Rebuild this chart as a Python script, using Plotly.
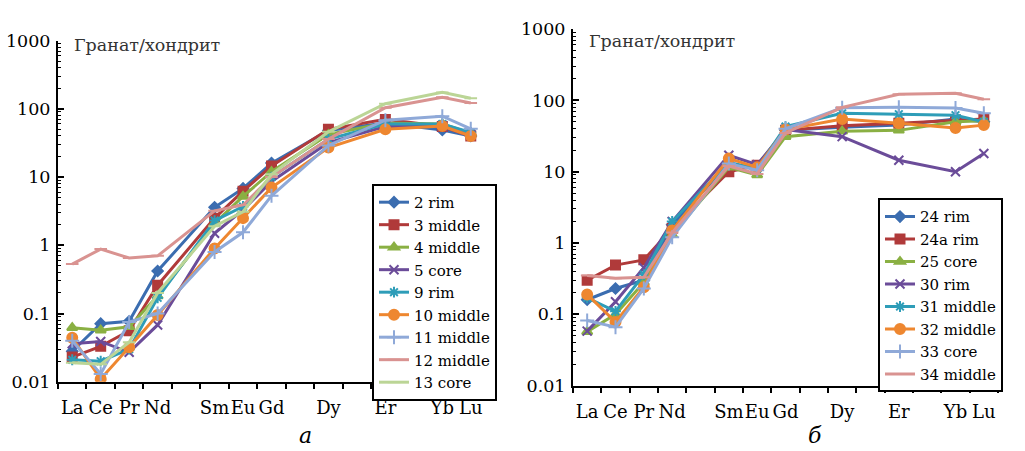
import plotly.graph_objects as go

# ---------------- data ----------------
REE_ORDER = ["La", "Ce", "Pr", "Nd", "Pm", "Sm", "Eu", "Gd", "Tb", "Dy", "Ho", "Er", "Tm", "Yb", "Lu"]
ELEMENTS = ["La", "Ce", "Pr", "Nd", "Sm", "Eu", "Gd", "Dy", "Er", "Yb", "Lu"]
Y_TICKS = [0.01, 0.1, 1, 10, 100, 1000]
Y_TICK_TEXT = ["0.01", "0.1", "1", "10", "100", "1000"]

# panel a
a_names = ["2 rim", "3 middle", "4 middle", "5 core", "9 rim", "10 middle", "11 middle", "12 middle", "13 core"]
a_2_rim = [0.028, 0.071, 0.077, 0.42, 3.6, 6.8, 16, 48, 62, 49, 40]
a_3_middle = [0.023, 0.033, 0.056, 0.26, 2.5, 6.2, 14.5, 50, 70, 55, 40]
a_4_middle = [0.062, 0.057, 0.064, 0.18, 2.1, 5.2, 12, 42, 62, 60, 44]
a_5_core = [0.036, 0.039, 0.027, 0.068, 1.5, 3.3, 8.6, 32, 55, 55, 42]
a_9_rim = [0.021, 0.020, 0.030, 0.17, 2.3, 3.7, 10, 36, 60, 60, 45]
a_10_middle = [0.044, 0.011, 0.032, 0.095, 0.9, 2.5, 7.0, 27, 50, 56, 40]
a_11_middle = [0.040, 0.013, 0.075, 0.10, 0.8, 1.55, 5.3, 29, 68, 78, 51]
a_12_middle = [0.53, 0.88, 0.65, 0.70, 3.2, 3.9, 10, 36, 104, 148, 122]
a_13_core = [0.019, 0.018, 0.038, 0.20, 1.9, 3.1, 11, 46, 119, 174, 143]
a_values = [a_2_rim, a_3_middle, a_4_middle, a_5_core, a_9_rim, a_10_middle, a_11_middle, a_12_middle, a_13_core]

# panel b
b_names = ["24 rim", "24a rim", "25 core", "30 rim", "31 middle", "32 middle", "33 core", "34 middle"]
b_24_rim = [0.16, 0.23, 0.30, 1.8, 13, 11, 38, 42, 45, 55, 50]
b_24a_rim = [0.30, 0.49, 0.58, 1.6, 10, 12.3, 38, 44, 48, 53, 55]
b_25_core = [0.057, 0.10, 0.28, 1.3, 11.5, 9.0, 31, 37, 38, 50, 52]
b_30_rim = [0.058, 0.15, 0.45, 2.0, 17, 12.5, 39, 31, 14.5, 10, 18]
b_31_middle = [0.17, 0.11, 0.36, 2.0, 13.5, 11, 43, 66, 64, 62, 50]
b_32_middle = [0.19, 0.078, 0.24, 1.5, 15.3, 11.5, 39, 55, 48, 41, 45]
b_33_core = [0.082, 0.066, 0.23, 1.2, 13, 10.5, 40, 79, 80, 78, 66]
b_34_middle = [0.35, 0.32, 0.33, 1.4, 12, 9.3, 35, 80, 122, 126, 104]
b_values = [b_24_rim, b_24a_rim, b_25_core, b_30_rim, b_31_middle, b_32_middle, b_33_core, b_34_middle]

# ---------------- styles ----------------
COLORS = ["#3B6DB0", "#B03A3A", "#8AB043", "#6B4C99", "#2E9DB8", "#EE8730", "#8FA9D8", "#D99391", "#BBD596"]
SYMBOLS = ["diamond", "square", "triangle-up", "x-thin", "asterisk", "circle", "cross-thin", "line-ew", "line-ew"]
SIZES = [8, 9, 9, 9, 9, 10, 10, 9, 9]

SERIF = "DejaVu Serif, Liberation Serif, Times New Roman, serif"
xpos = [REE_ORDER.index(e) for e in ELEMENTS]

fig = go.Figure()


def add_panel(names, values, xa, ya, legend, palette, symbols, sizes):
    for i, (name, vals) in enumerate(zip(names, values)):
        c = palette[i]
        fig.add_trace(go.Scatter(
            x=xpos, y=vals, name=name, mode="lines+markers",
            xaxis=xa, yaxis=ya, legend=legend,
            line=dict(color=c, width=3),
            marker=dict(symbol=symbols[i], size=sizes[i], color=c,
                        line=dict(color=c, width=2)),
        ))


add_panel(a_names, a_values, "x", "y", "legend", COLORS, SYMBOLS, SIZES)
add_panel(b_names, b_values, "x2", "y2", "legend2", COLORS[:8], SYMBOLS[:8], SIZES[:8])

W, H = 1025, 451

minor_y = [m * 10 ** e for e in range(-2, 3) for m in range(2, 10)]
bounds = [i - 0.5 for i in range(len(REE_ORDER) + 1)]


def xaxis_cfg(x0, x1):
    return dict(
        domain=[x0 / W, x1 / W], range=[-0.5, len(REE_ORDER) - 0.5],
        tickmode="array", tickvals=xpos, ticktext=ELEMENTS, ticks="",
        tickangle=0,
        minor=dict(tickmode="array", tickvals=bounds, ticks="outside", ticklen=5,
                   tickwidth=1.5, tickcolor="black", showgrid=False),
        showline=True, linecolor="black", linewidth=2, showgrid=False, zeroline=False,
        tickfont=dict(family=SERIF, size=18, color="black"),
        ticklabelstandoff=9,
    )


def yaxis_cfg(top, bottom, anchor):
    return dict(
        domain=[(H - bottom) / H, (H - top) / H], type="log", range=[-2, 3],
        tickmode="array", tickvals=Y_TICKS, ticktext=Y_TICK_TEXT,
        ticks="inside", ticklen=6, tickwidth=1.5, tickcolor="black",
        minor=dict(tickmode="array", tickvals=minor_y, ticks="inside", ticklen=3,
                   tickwidth=1, tickcolor="black", showgrid=False),
        showline=True, linecolor="black", linewidth=2, showgrid=False, zeroline=False,
        tickfont=dict(family=SERIF, size=17.5, color="black"), anchor=anchor,
        ticklabelstandoff=2,
    )


legend_common = dict(
    bordercolor="black", borderwidth=2, bgcolor="white",
    font=dict(family=SERIF, size=15, color="black"),
    itemwidth=30, tracegroupgap=0, xanchor="left", yanchor="top",
)

fig.update_layout(
    width=W, height=H, margin=dict(l=0, r=0, t=0, b=0),
    paper_bgcolor="white", plot_bgcolor="white",
    xaxis=dict(**xaxis_cfg(58, 485), anchor="y"),
    yaxis=yaxis_cfg(32, 389, "x"),
    xaxis2=dict(**xaxis_cfg(573, 998), anchor="y2"),
    yaxis2=yaxis_cfg(20, 393, "x2"),
    legend=dict(**legend_common, x=372 / W, y=(H - 182) / H),
    legend2=dict(**legend_common, x=878 / W, y=(H - 197) / H),
    annotations=[
        dict(text="Гранат/хондрит", x=72 / W, y=(H - 37) / H, xref="paper", yref="paper",
             xanchor="left", yanchor="middle", showarrow=False,
             font=dict(family=SERIF, size=17.5, color="#333")),
        dict(text="Гранат/хондрит", x=587 / W, y=(H - 32) / H, xref="paper", yref="paper",
             xanchor="left", yanchor="middle", showarrow=False,
             font=dict(family=SERIF, size=17.5, color="#333")),
        dict(text="<i>а</i>", x=305 / W, y=(H - 445) / H, xref="paper", yref="paper",
             xanchor="center", yanchor="middle", showarrow=False,
             font=dict(family=SERIF, size=22, color="black")),
        dict(text="<i>б</i>", x=815 / W, y=(H - 445) / H, xref="paper", yref="paper",
             xanchor="center", yanchor="middle", showarrow=False,
             font=dict(family=SERIF, size=22, color="black")),
    ],
)

fig.write_html("out.html")
